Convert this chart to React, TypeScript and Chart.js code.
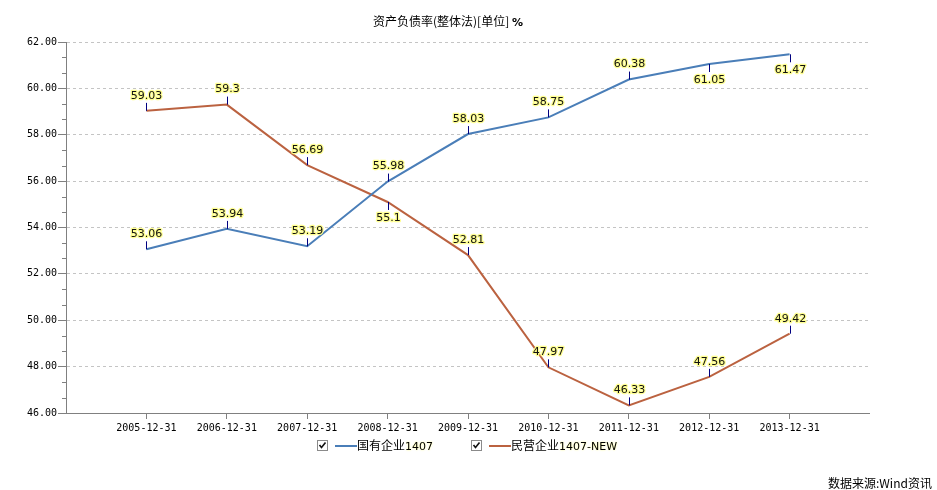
import React, { useEffect, useRef } from "react";
import { Chart, registerables } from "chart.js";

Chart.register(...registerables);

const categories = [
  "2005-12-31", "2006-12-31", "2007-12-31", "2008-12-31", "2009-12-31",
  "2010-12-31", "2011-12-31", "2012-12-31", "2013-12-31",
];
const stateOwned = [53.06, 53.94, 53.19, 55.98, 58.03, 58.75, 60.38, 61.05, 61.47];
const privateOwned = [59.03, 59.3, 56.69, 55.1, 52.81, 47.97, 46.33, 47.56, 49.42];
const stateLabelSide = ["up", "up", "up", "up", "up", "up", "up", "down", "down"];
const privateLabelSide = ["up", "up", "up", "down", "up", "up", "up", "up", "up"];
const seriesNames = ["国有企业", "民营企业"];
const seriesSuffix = ["1407", "1407-NEW"];
const yMin = 46;
const yMax = 62;
const yStep = 2;
const titleText = "资产负债率(整体法)[单位] ";
const titleUnit = "%";
const sourceText = "数据来源:Wind资讯";

const BLUE = "#4a7eb8";
const ORANGE = "#bb6240";

const labelPlugin = {
  id: "valueLabels",
  afterDatasetsDraw(chart: any) {
    const ctx = chart.ctx;
    const sides = [stateLabelSide, privateLabelSide];
    ctx.save();
    chart.data.datasets.forEach((ds: any, di: number) => {
      const meta = chart.getDatasetMeta(di);
      meta.data.forEach((pt: any, i: number) => {
        const x = Math.round(pt.x) + 0.5;
        const y = pt.y;
        const up = sides[di][i] === "up";
        ctx.strokeStyle = "#000080";
        ctx.lineWidth = 1;
        ctx.setLineDash([]);
        ctx.beginPath();
        ctx.moveTo(x, y);
        ctx.lineTo(x, up ? y - 8 : y + 8);
        ctx.stroke();
        const txt = String(ds.data[i].y);
        ctx.font = "11px 'DejaVu Sans'";
        ctx.textAlign = "center";
        ctx.textBaseline = "middle";
        const ty = up ? y - 15 : y + 16;
        ctx.lineJoin = "round";
        ctx.strokeStyle = "rgba(255,255,140,0.95)";
        ctx.lineWidth = 2.5;
        ctx.strokeText(txt, x, ty);
        ctx.fillStyle = "#111";
        ctx.fillText(txt, x, ty);
      });
    });
    ctx.restore();
  },
};

const axisPlugin = {
  id: "axisExtras",
  afterDraw(chart: any) {
    const ctx = chart.ctx;
    const ys = chart.scales.y;
    const xs = chart.scales.x;
    ctx.save();
    ctx.strokeStyle = "#808080";
    ctx.lineWidth = 1;
    ctx.setLineDash([]);
    const by = Math.round(ys.getPixelForValue(yMin)) + 0.5;
    ctx.beginPath();
    ctx.moveTo(xs.getPixelForValue(xs.min), by);
    ctx.lineTo(xs.getPixelForValue(xs.max), by);
    ctx.stroke();
    const ax = Math.round(xs.getPixelForValue(xs.min));
    for (let k = 0; k <= ((yMax - yMin) * 3) / yStep; k++) {
      if (k % 3 === 0) continue;
      const v = yMin + (k * yStep) / 3;
      const py = Math.round(ys.getPixelForValue(v)) + 0.5;
      ctx.beginPath();
      ctx.moveTo(ax - 4, py);
      ctx.lineTo(ax, py);
      ctx.stroke();
    }
    ctx.restore();
  },
};

function ChartCanvas() {
  const ref = useRef<HTMLCanvasElement | null>(null);
  useEffect(() => {
    if (!ref.current) return;
    const chart = new Chart(ref.current, {
      type: "line",
      data: {
        datasets: [
          {
            label: seriesNames[0] + seriesSuffix[0],
            data: stateOwned.map((v, i) => ({ x: i + 1, y: v })),
            borderColor: BLUE,
            borderWidth: 2,
            pointRadius: 0,
            tension: 0,
          },
          {
            label: seriesNames[1] + seriesSuffix[1],
            data: privateOwned.map((v, i) => ({ x: i + 1, y: v })),
            borderColor: ORANGE,
            borderWidth: 2,
            pointRadius: 0,
            tension: 0,
          },
        ],
      },
      options: {
        responsive: false,
        animation: false,
        layout: { padding: { top: 42, right: 67, left: 0, bottom: 0 } },
        plugins: { legend: { display: false }, title: { display: false }, tooltip: { enabled: false } },
        scales: {
          x: {
            type: "linear",
            min: 0,
            max: categories.length + 1,
            afterBuildTicks: (s: any) => {
              s.ticks = categories.map((_, i) => ({ value: i + 1 }));
            },
            afterFit: (s: any) => {
              s.height = 77;
            },
            ticks: {
              autoSkip: false,
              maxRotation: 0,
              padding: 3,
              color: "#000",
              font: { family: "'DejaVu Sans Mono'", size: 10 },
              callback: (v: any) => categories[Math.round(v) - 1] ?? "",
            },
            grid: { drawOnChartArea: false, tickLength: 6, tickColor: "#808080" },
            border: { display: false },
          },
          y: {
            min: yMin,
            max: yMax,
            afterFit: (s: any) => {
              s.width = 66;
            },
            ticks: {
              stepSize: yStep,
              padding: 1,
              color: "#000",
              font: { family: "'DejaVu Sans Mono'", size: 10 },
              callback: (v: any) => Number(v).toFixed(2),
            },
            grid: { color: "#c4c4c4", tickColor: "#808080", tickLength: 8 },
            border: { color: "#808080", width: 1, dash: [3, 3] },
          },
        },
      },
      plugins: [labelPlugin, axisPlugin],
    } as any);
    return () => chart.destroy();
  }, []);
  return <canvas ref={ref} width={937} height={490} style={{ position: "absolute", left: 0, top: 0 }} />;
}

function CheckBox() {
  return (
    <svg width={11} height={11} style={{ position: "absolute", left: 0, top: 0 }}>
      <rect x={0.5} y={0.5} width={10} height={10} fill="#fff" stroke="#8a8a8a" />
      <path d="M2.5 5 L4.5 7.5 L8.5 2.5" stroke="#111" strokeWidth={1.6} fill="none" />
    </svg>
  );
}

function LegendItem({ left, color, name, suffix }: { left: number; color: string; name: string; suffix: string }) {
  return (
    <div style={{ position: "absolute", left, top: 440, height: 12, width: 200 }}>
      <CheckBox />
      <div style={{ position: "absolute", left: 18, top: 5, width: 22, height: 2, background: color }} />
      <div
        style={{
          position: "absolute",
          left: 40,
          top: -3,
          whiteSpace: "nowrap",
          fontSize: 12,
          lineHeight: "16px",
          fontFamily: "'Noto Sans CJK SC', sans-serif",
          color: "#000",
        }}
      >
        {name}
        <span style={{ fontFamily: "'DejaVu Sans', sans-serif", fontSize: 11, textShadow: "0 0 2px #ffff80" }}>{suffix}</span>
      </div>
    </div>
  );
}

export default function App() {
  return (
    <div style={{ position: "fixed", left: 0, top: 0, width: 937, height: 490, background: "#fff", overflow: "hidden" }}>
      <ChartCanvas />
      <div
        style={{
          position: "absolute",
          left: 373,
          top: 13,
          fontSize: 12,
          lineHeight: "16px",
          whiteSpace: "nowrap",
          fontFamily: "'Noto Sans CJK SC', sans-serif",
          color: "#000",
        }}
      >
        {titleText}
        <span style={{ fontWeight: "bold", fontFamily: "'DejaVu Sans', sans-serif", fontSize: 11 }}>{titleUnit}</span>
      </div>
      <LegendItem left={317} color={BLUE} name={seriesNames[0]} suffix={seriesSuffix[0]} />
      <LegendItem left={471} color={ORANGE} name={seriesNames[1]} suffix={seriesSuffix[1]} />
      <div
        style={{
          position: "absolute",
          left: 828,
          top: 475,
          fontSize: 12,
          lineHeight: "16px",
          whiteSpace: "nowrap",
          fontFamily: "'Noto Sans CJK SC', sans-serif",
          color: "#000",
        }}
      >
        {sourceText}
      </div>
    </div>
  );
}
